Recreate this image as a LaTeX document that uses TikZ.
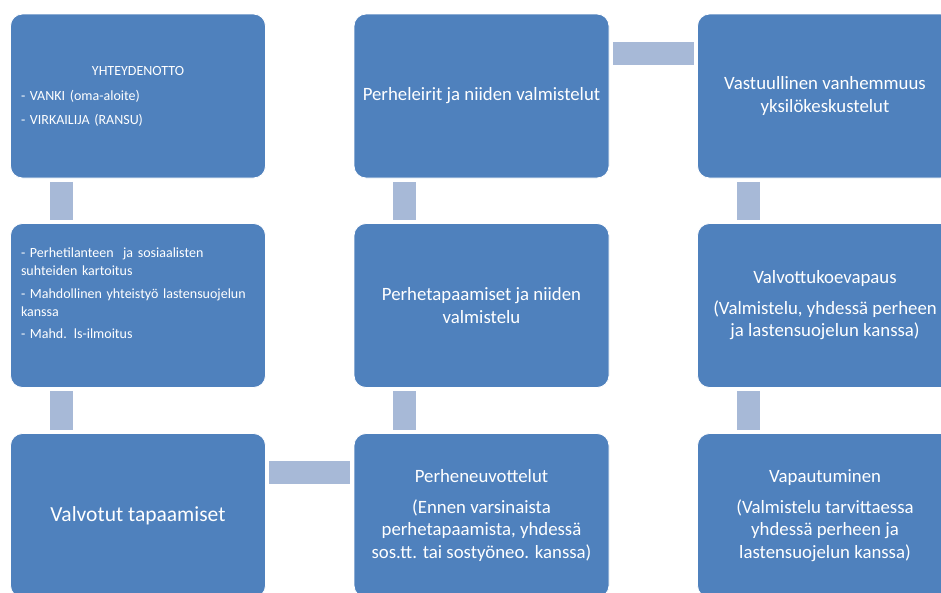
\documentclass[tikz,border=0pt]{standalone}
\usepackage{fontspec}
\setmainfont{Carlito}
\definecolor{stageblue}{HTML}{4F81BD}
\definecolor{linkblue}{HTML}{A7B9D7}
\hyphenpenalty=10000

\begin{document}
\begin{tikzpicture}[x=1pt, y=-1pt,
    stage/.style={rectangle, rounded corners=12pt, fill=stageblue, draw=white, line width=0.8pt,
      minimum width=255pt, minimum height=164pt, text=white, align=center,
      font=\fontsize{18.8}{22.5}\selectfont},
    listing/.style={font=\fontsize{14}{18}\selectfont, text width=234pt, align=left},
    link/.style={draw=linkblue, line width=23pt, shorten <=3.5pt, shorten >=3.5pt}]
            \useasboundingbox (0,0) rectangle (941,592);

            \node[stage, listing] (c1r1) at (138,96) {\makebox[\linewidth]{YHTEYDENOTTO}\\[7pt]- VANKI (oma-aloite)\\[6pt]- VIRKAILIJA (RANSU)};
            \node[stage, listing] (c1r2) at (138,305.5) {- Perhetilanteen\ \ ja sosiaalisten suhteiden kartoitus\\[4.5pt]- Mahdollinen yhteistyö lastensuojelun kanssa\\[4.5pt]- Mahd. ls-ilmoitus\\[6pt]\mbox{}};
            \node[stage, font=\fontsize{21.5}{25}\selectfont] (c1r3) at (138,515.5) {Valvotut tapaamiset};

            \node[stage] (c2r1) at (481.5,96) {Perheleirit ja niiden valmistelut};
            \node[stage] (c2r2) at (481.5,305.5) {Perhetapaamiset ja niiden\\valmistelu};
            \node[stage] (c2r3) at (481.5,515.5) {Perheneuvottelut\\[8pt](Ennen varsinaista\\perhetapaamista, yhdessä\\sos.tt. tai sostyöneo. kanssa)};

            \node[stage] (c3r1) at (825,96) {Vastuullinen vanhemmuus\\yksilökeskustelut};
            \node[stage] (c3r2) at (825,305.5) {Valvottukoevapaus\\[8pt](Valmistelu, yhdessä perheen\\ja lastensuojelun kanssa)};
            \node[stage] (c3r3) at (825,515.5) {Vapautuminen\\[8pt](Valmistelu tarvittaessa\\yhdessä perheen ja\\lastensuojelun kanssa)};

            \draw[link] ([xshift=-77pt]c1r1.south) -- ([xshift=-77pt]c1r2.north);
            \draw[link] ([xshift=-77pt]c1r2.south) -- ([xshift=-77pt]c1r3.north);
            \draw[link] ([yshift=43pt]c1r3.east) -- ([yshift=43pt]c2r3.west);
            \draw[link] ([xshift=-77pt]c2r3.north) -- ([xshift=-77pt]c2r2.south);
            \draw[link] ([xshift=-77pt]c2r2.north) -- ([xshift=-77pt]c2r1.south);
            \draw[link] ([yshift=43pt]c2r1.east) -- ([yshift=43pt]c3r1.west);
            \draw[link] ([xshift=-77pt]c3r1.south) -- ([xshift=-77pt]c3r2.north);
            \draw[link] ([xshift=-77pt]c3r2.south) -- ([xshift=-77pt]c3r3.north);
        \end{tikzpicture}
\end{document}
